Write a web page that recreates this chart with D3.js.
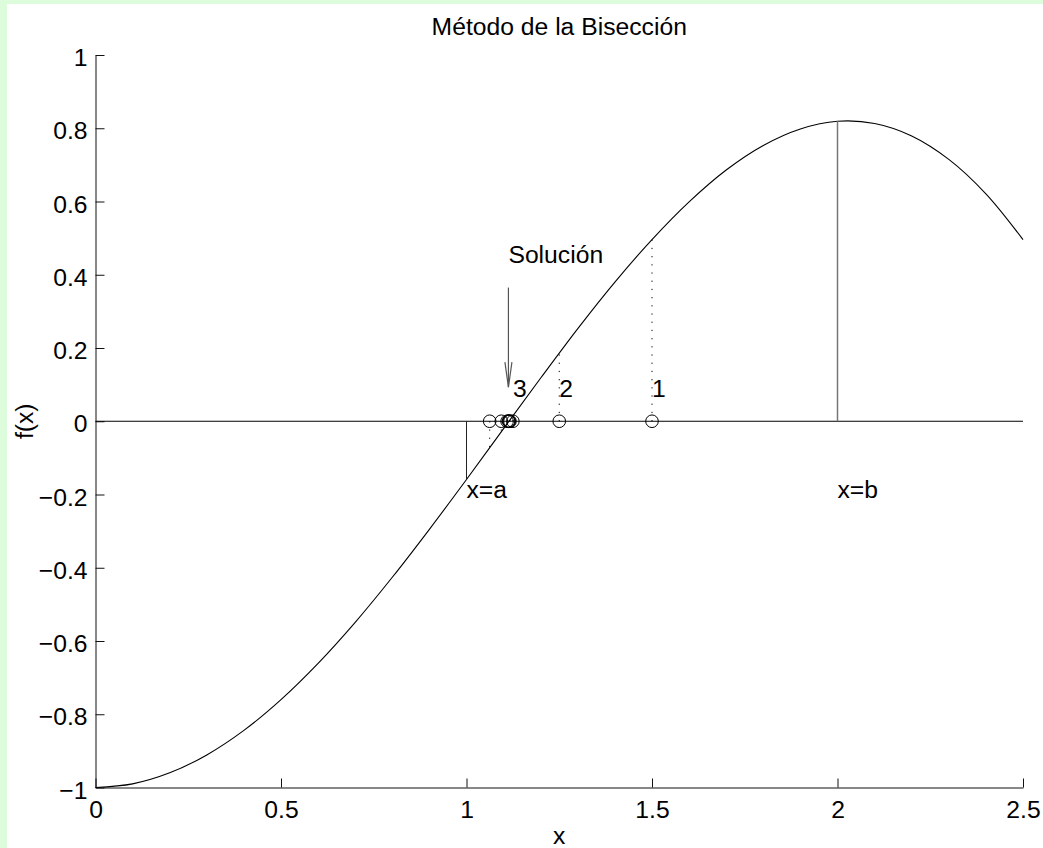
<!DOCTYPE html>
<html>
<head>
<meta charset="utf-8">
<script src="https://cdn.jsdelivr.net/npm/d3@7"></script>
<style>
  body { margin: 0; background: #fff; }
  svg { display: block; }
  text { font-family: "Liberation Sans", Arial, Helvetica, sans-serif; font-size: 24.7px; fill: #000; }
</style>
</head>
<body>
<svg id="chart" width="1043" height="848"></svg>
<script>
// f(x) sampled along the interval
const xValues = [0, 0.1, 0.2, 0.3, 0.4, 0.5, 0.6, 0.7, 0.8, 0.9, 1.0, 1.1, 1.2,
                 1.3, 1.4, 1.5, 1.6, 1.7, 1.8, 1.9, 2.0, 2.1, 2.2, 2.3, 2.4, 2.5];
const fValues = [-1.000, -0.990, -0.960, -0.911, -0.844, -0.760, -0.661, -0.549, -0.426,
                 -0.295, -0.159, -0.020, 0.118, 0.253, 0.380, 0.496, 0.599, 0.686, 0.753,
                 0.798, 0.819, 0.813, 0.779, 0.715, 0.621, 0.496];

// axis ticks
const xTicks = [0, 0.5, 1, 1.5, 2, 2.5];
const yTicks = [-1, -0.8, -0.6, -0.4, -0.2, 0, 0.2, 0.4, 0.6, 0.8, 1];

// starting interval [a, b]
const endpoints = [1, 2];
const endValues = [-0.159, 0.819];
const endpointLabels = ["x=a", "x=b"];
const endpointLabelY = -0.2;

// successive midpoints of the bisection and f at each
const midpoints = [1.5, 1.25, 1.125, 1.0625, 1.09375, 1.109375, 1.1171875,
                   1.11328125, 1.115234375, 1.1142578];
const midValues = [0.496, 0.186, 0.015, -0.072, -0.028, -0.007, 0.004, -0.001, 0.002, 0.000];
const iterationLabels = ["1", "2", "3"];
const iterationLabelY = 0.075;

// annotation of the root
const solutionText = "Solución";
const solutionX = 1.113;
const solutionTextY = 0.44;
const arrowFrom = 0.365;
const arrowTo = 0.093;

const svg = d3.select("#chart");
const W = 1043, H = 848;

// page frame
svg.append("rect").attr("width", W).attr("height", H).attr("fill", "#dcfcdc");
svg.append("rect").attr("x", 7).attr("y", 4).attr("width", W - 7).attr("height", H - 4).attr("fill", "#fff");

const x = d3.scaleLinear().domain([0, 2.5]).range([95.5, 1023]);
const y = d3.scaleLinear().domain([-1, 1]).range([787.5, 55]);

// axes (ticks point inward)
const fmt = d3.format("");
const gx = svg.append("g")
  .attr("transform", `translate(0,${y(-1)})`)
  .call(d3.axisBottom(x).tickValues(xTicks).tickFormat(fmt)
        .tickSizeInner(-9).tickSizeOuter(0).tickPadding(13));
const gy = svg.append("g")
  .attr("transform", `translate(${x(0)},0)`)
  .call(d3.axisLeft(y).tickValues(yTicks).tickFormat(fmt)
        .tickSizeInner(-9).tickSizeOuter(0).tickPadding(8));
gy.selectAll(".tick text").attr("dy", "0.43em");
gx.selectAll(".tick text").attr("dy", "0.7em");
[gx, gy].forEach(g => {
  g.select(".domain").attr("stroke", "#111").attr("stroke-width", 1);
  g.selectAll(".tick line").attr("stroke", "#111");
});

// axis titles
svg.append("text").attr("x", (x(0) + x(2.5)) / 2).attr("y", 35)
  .attr("text-anchor", "middle").text("Método de la Bisección");
svg.append("text").attr("x", (x(0) + x(2.5)) / 2).attr("y", 844)
  .attr("text-anchor", "middle").text("x");
svg.append("text").attr("transform", `translate(33,${y(0)}) rotate(-90)`)
  .attr("text-anchor", "middle").text("f(x)");

// horizontal line y = 0
svg.append("line")
  .attr("x1", x(0)).attr("x2", x(2.5)).attr("y1", y(0)).attr("y2", y(0))
  .attr("stroke", "#000").attr("stroke-width", 1);

// curve
const pts = xValues.map((v, i) => [v, fValues[i]]);
svg.append("path").datum(pts)
  .attr("fill", "none").attr("stroke", "#000").attr("stroke-width", 1.1)
  .attr("d", d3.line().x(d => x(d[0])).y(d => y(d[1])).curve(d3.curveCatmullRom.alpha(0.5)));

// endpoints of the interval
svg.selectAll(".endline").data(endpoints).join("line")
  .attr("x1", d => x(d)).attr("x2", d => x(d))
  .attr("y1", y(0)).attr("y2", (d, i) => y(endValues[i]))
  .attr("stroke", (d, i) => i === 0 ? "#222" : "#777").attr("stroke-width", (d, i) => i === 0 ? 1 : 1.5);
svg.selectAll(".endlabel").data(endpointLabels).join("text")
  .attr("x", (d, i) => x(endpoints[i])).attr("y", y(endpointLabelY) + 3)
  .text(d => d);

// dotted verticals at each midpoint
svg.selectAll(".midline").data(midpoints).join("line")
  .attr("x1", d => x(d)).attr("x2", d => x(d))
  .attr("y1", y(0)).attr("y2", (d, i) => y(midValues[i]))
  .attr("stroke", "#000").attr("stroke-width", 1).attr("stroke-dasharray", "1.2,7");

// midpoint markers
svg.selectAll(".midmark").data(midpoints).join("circle")
  .attr("cx", d => x(d)).attr("cy", y(0)).attr("r", 6.3)
  .attr("fill", "none").attr("stroke", "#000").attr("stroke-width", 1);

// iteration numbers
svg.selectAll(".iter").data(iterationLabels).join("text")
  .attr("x", (d, i) => x(midpoints[i])).attr("y", y(iterationLabelY) + 3)
  .text(d => d);

// arrow pointing to the solution
const ax = x(solutionX);
svg.append("line").attr("x1", ax).attr("x2", ax).attr("y1", y(arrowFrom)).attr("y2", y(arrowTo))
  .attr("stroke", "#555").attr("stroke-width", 1.2);
svg.append("path")
  .attr("d", `M${ax - 3.5},${y(arrowTo) - 25}L${ax},${y(arrowTo)}L${ax + 3.5},${y(arrowTo) - 25}`)
  .attr("fill", "none").attr("stroke", "#555").attr("stroke-width", 1.2);
svg.append("text").attr("x", ax).attr("y", y(solutionTextY) + 3).text(solutionText);
</script>
</body>
</html>
